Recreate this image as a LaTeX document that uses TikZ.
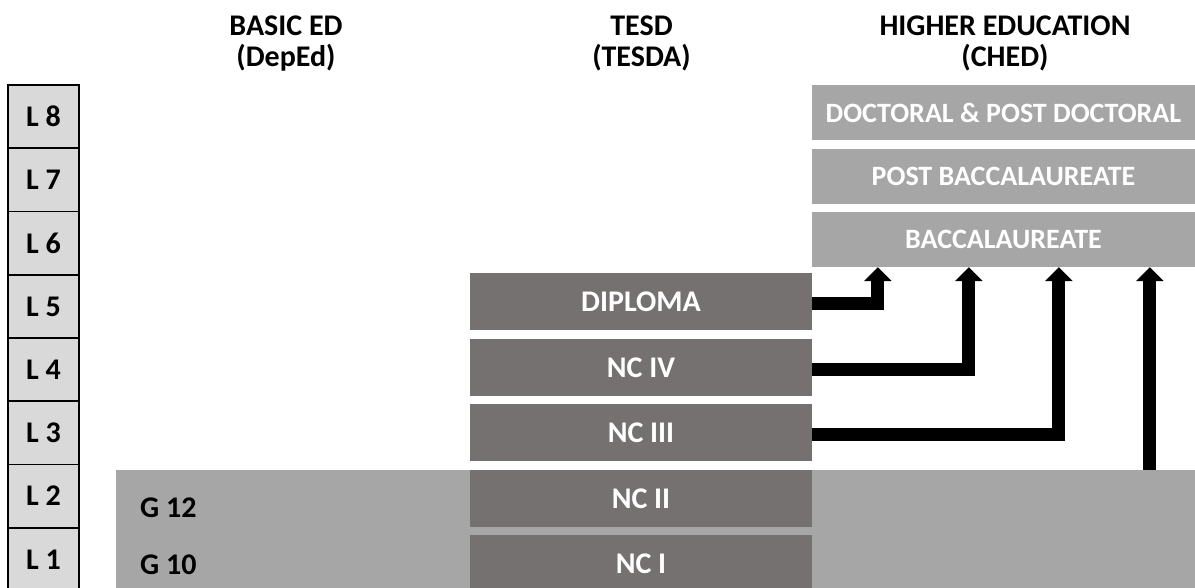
\documentclass[tikz,border=0pt]{standalone}
\usepackage{fontspec}
\setmainfont{Carlito}
\usetikzlibrary{arrows.meta}
\definecolor{lvlgray}{HTML}{D9D9D9}
\definecolor{midgray}{HTML}{A6A6A6}
\definecolor{tesdgray}{HTML}{767171}

\begin{document}
\begin{tikzpicture}[x=1pt,y=-1pt,
  every node/.style={font=\fontsize{30}{31.5}\selectfont\bfseries, inner sep=0pt},
  lvl/.style={draw=black, line width=1.5pt, fill=lvlgray, minimum width=71pt, minimum height=63.25pt},
  tesd/.style={fill=tesdgray, text=white, minimum width=342pt, minimum height=57pt},
  ched/.style={fill=midgray, text=white, minimum width=383pt, minimum height=55pt,
    font=\fontsize{28}{31}\selectfont\bfseries},
  flow/.style={line width=13pt, -{Triangle[width=27pt,length=14pt]}}]
\useasboundingbox (0,0) rectangle (1195,587);
% headers
\node[align=center] (hbasic) at (286,43.5) {BASIC ED\\(DepEd)};
\node[align=center] (htesd) at (641.5,43.5) {TESD\\(TESDA)};
\node[align=center] (hched) at (1005,43.5) {HIGHER EDUCATION\\(CHED)};
% levels
\node[lvl] (l8) at (43.5,116.6) {L 8};
\node[lvl] (l7) at (43.5,179.9) {L 7};
\node[lvl] (l6) at (43.5,243.1) {L 6};
\node[lvl] (l5) at (43.5,306.4) {L 5};
\node[lvl] (l4) at (43.5,369.6) {L 4};
\node[lvl] (l3) at (43.5,432.9) {L 3};
\node[lvl] (l2) at (43.5,496.1) {L 2};
\node[lvl] (l1) at (43.5,559.4) {L 1};
% basic ed
\node[fill=midgray, minimum width=1079pt, minimum height=125pt, anchor=north west] (basic) at (116,470) {};
\node[anchor=west] (g12) at (140,508) {G 12};
\node[anchor=west] (g10) at (140,565) {G 10};
% tesd
\node[tesd] (diploma) at (641,301.5) {DIPLOMA};
\node[tesd] (nc4) at (641,367.5) {NC IV};
\node[tesd] (nc3) at (641,432.5) {NC III};
\node[tesd] (nc2) at (641,498.5) {NC II};
\node[tesd] (nc1) at (641,563.5) {NC I};
% ched
\node[ched] (doct) at (1003.5,112.5) {DOCTORAL \& POST DOCTORAL};
\node[ched] (postbacc) at (1003.5,176.5) {POST BACCALAUREATE};
\node[ched] (bacc) at (1003.5,239.5) {BACCALAUREATE};
% ladders
\coordinate (t1) at ([xshift=66pt]bacc.south west);
\coordinate (t2) at ([xshift=157pt]bacc.south west);
\coordinate (t3) at ([xshift=247pt]bacc.south west);
\coordinate (t4) at ([xshift=338pt]bacc.south west);
\draw[flow] ([yshift=-2pt]diploma.east) -| (t1);
\draw[flow] ([yshift=-2pt]nc4.east) -| (t2);
\draw[flow] ([yshift=-2pt]nc3.east) -| (t3);
\draw[flow] (basic.north -| t4) -- (t4);
\end{tikzpicture}
\end{document}
